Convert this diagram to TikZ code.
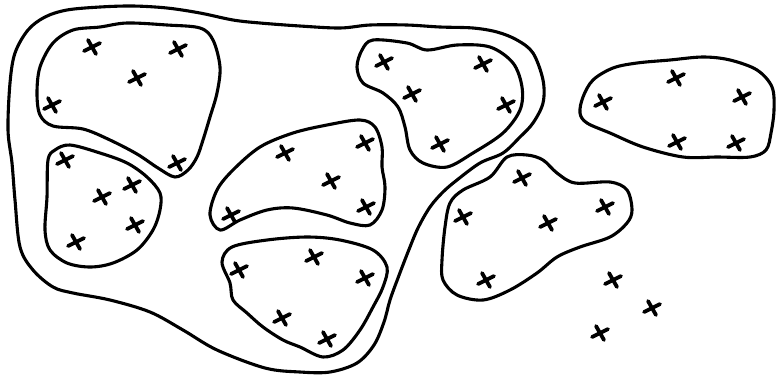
\documentclass[tikz,border=0pt]{standalone}
\begin{document}
\begin{tikzpicture}[x=1pt,y=-1pt,
  blob/.style={line width=3.1pt,line join=round},
  xm/.pic={\draw[line width=3.8pt,line cap=round] (-8,4) -- (8,-4) (-4,-7) -- (4,7);}]
\useasboundingbox (0,0) rectangle (776,376);
% outer boundary
\draw[blob] plot[smooth cycle,tension=0.55] coordinates {
 (15,53) (28,30) (45,17) (67,10) (100,7) (133,6) (167,8) (200,13) (233,20) (260,23)
 (300,26) (340,28) (370,25) (407,25) (440,27) (473,28) (497,32) (517,40) (533,53)
 (543,80) (543,103) (533,123) (520,137) (503,153) (480,163) (457,180) (443,192)
 (430,207) (418,228) (408,252) (398,278) (390,300) (384,322) (374,345) (357,363)
 (330,372) (300,372) (265,368) (217,350) (183,330) (150,312) (110,300) (73,293)
 (53,287) (33,270) (20,247) (15,200) (12,163) (8,130) (10,83)};
% blob A
\draw[blob] plot[smooth cycle,tension=0.55] coordinates {
 (37,93) (40,67) (53,43) (73,30) (100,27) (127,23) (167,25) (200,28) (213,40) (220,67)
 (217,93) (210,117) (203,140) (197,157) (188,170) (175,177) (158,168) (137,154)
 (110,140) (83,129) (53,126) (40,115)};
% blob B
\draw[blob] plot[smooth cycle,tension=0.55] coordinates {
 (48,160) (55,150) (70,145) (100,153) (127,163) (147,177) (160,193) (160,210)
 (153,230) (137,250) (113,263) (90,267) (67,263) (50,250) (45,230) (47,197)};
% blob C
\draw[blob] plot[smooth cycle,tension=0.55] coordinates {
 (210,215) (217,190) (233,170) (260,147) (293,133) (327,125) (360,120) (375,127)
 (382,147) (382,167) (385,187) (382,210) (370,225) (350,223) (327,215) (293,208)
 (267,210) (240,220) (220,230)};
% blob D
\draw[blob] plot[smooth cycle,tension=0.55] coordinates {
 (222,262) (232,247) (267,240) (307,237) (340,240) (373,250) (387,267) (383,287)
 (373,307) (360,330) (343,350) (323,357) (300,347) (283,340) (263,327) (247,313)
 (233,300) (230,283)};
% blob E
\draw[blob] plot[smooth cycle,tension=0.55] coordinates {
 (357,67) (362,50) (373,40) (407,43) (427,50) (457,45) (490,47) (513,63) (522,87)
 (520,110) (503,133) (473,153) (447,167) (423,163) (410,150) (405,127) (398,107)
 (383,93) (363,83)};
% blob G
\draw[blob] plot[smooth cycle,tension=0.55] coordinates {
 (507,157) (527,155) (543,160) (557,173) (575,183) (610,182) (627,190) (632,210)
 (627,223) (610,237) (580,247) (557,257) (537,273) (510,290) (483,300) (457,295)
 (443,280) (442,260) (445,227) (450,203) (463,190) (490,177)};
% blob F
\draw[blob] plot[smooth cycle,tension=0.55] coordinates {
 (580,113) (583,97) (593,80) (613,68) (637,63) (670,60) (703,57) (730,60) (757,70)
 (772,87) (774,110) (771,133) (766,150) (750,157) (717,157) (683,157) (643,147)
 (610,133) (587,123)};
% crosses
\foreach \p in {(92,47),(178,49),(137,78),(52,105),(177,163),
  (65,160),(102,197),(132,185),(135,225),(76,242),
  (285,153),(331,181),(365,143),(366,207),(231,215),
  (239,270),(314,257),(365,278),(282,318),(327,339),
  (384,62),(483,64),(412,94),(506,105),(440,144),
  (522,178),(463,217),(548,223),(605,207),(486,280),
  (613,280),(652,308),(600,333),
  (676,78),(603,102),(742,97),(677,142),(736,143)}
  \pic at \p {xm};
\end{tikzpicture}
\end{document}
